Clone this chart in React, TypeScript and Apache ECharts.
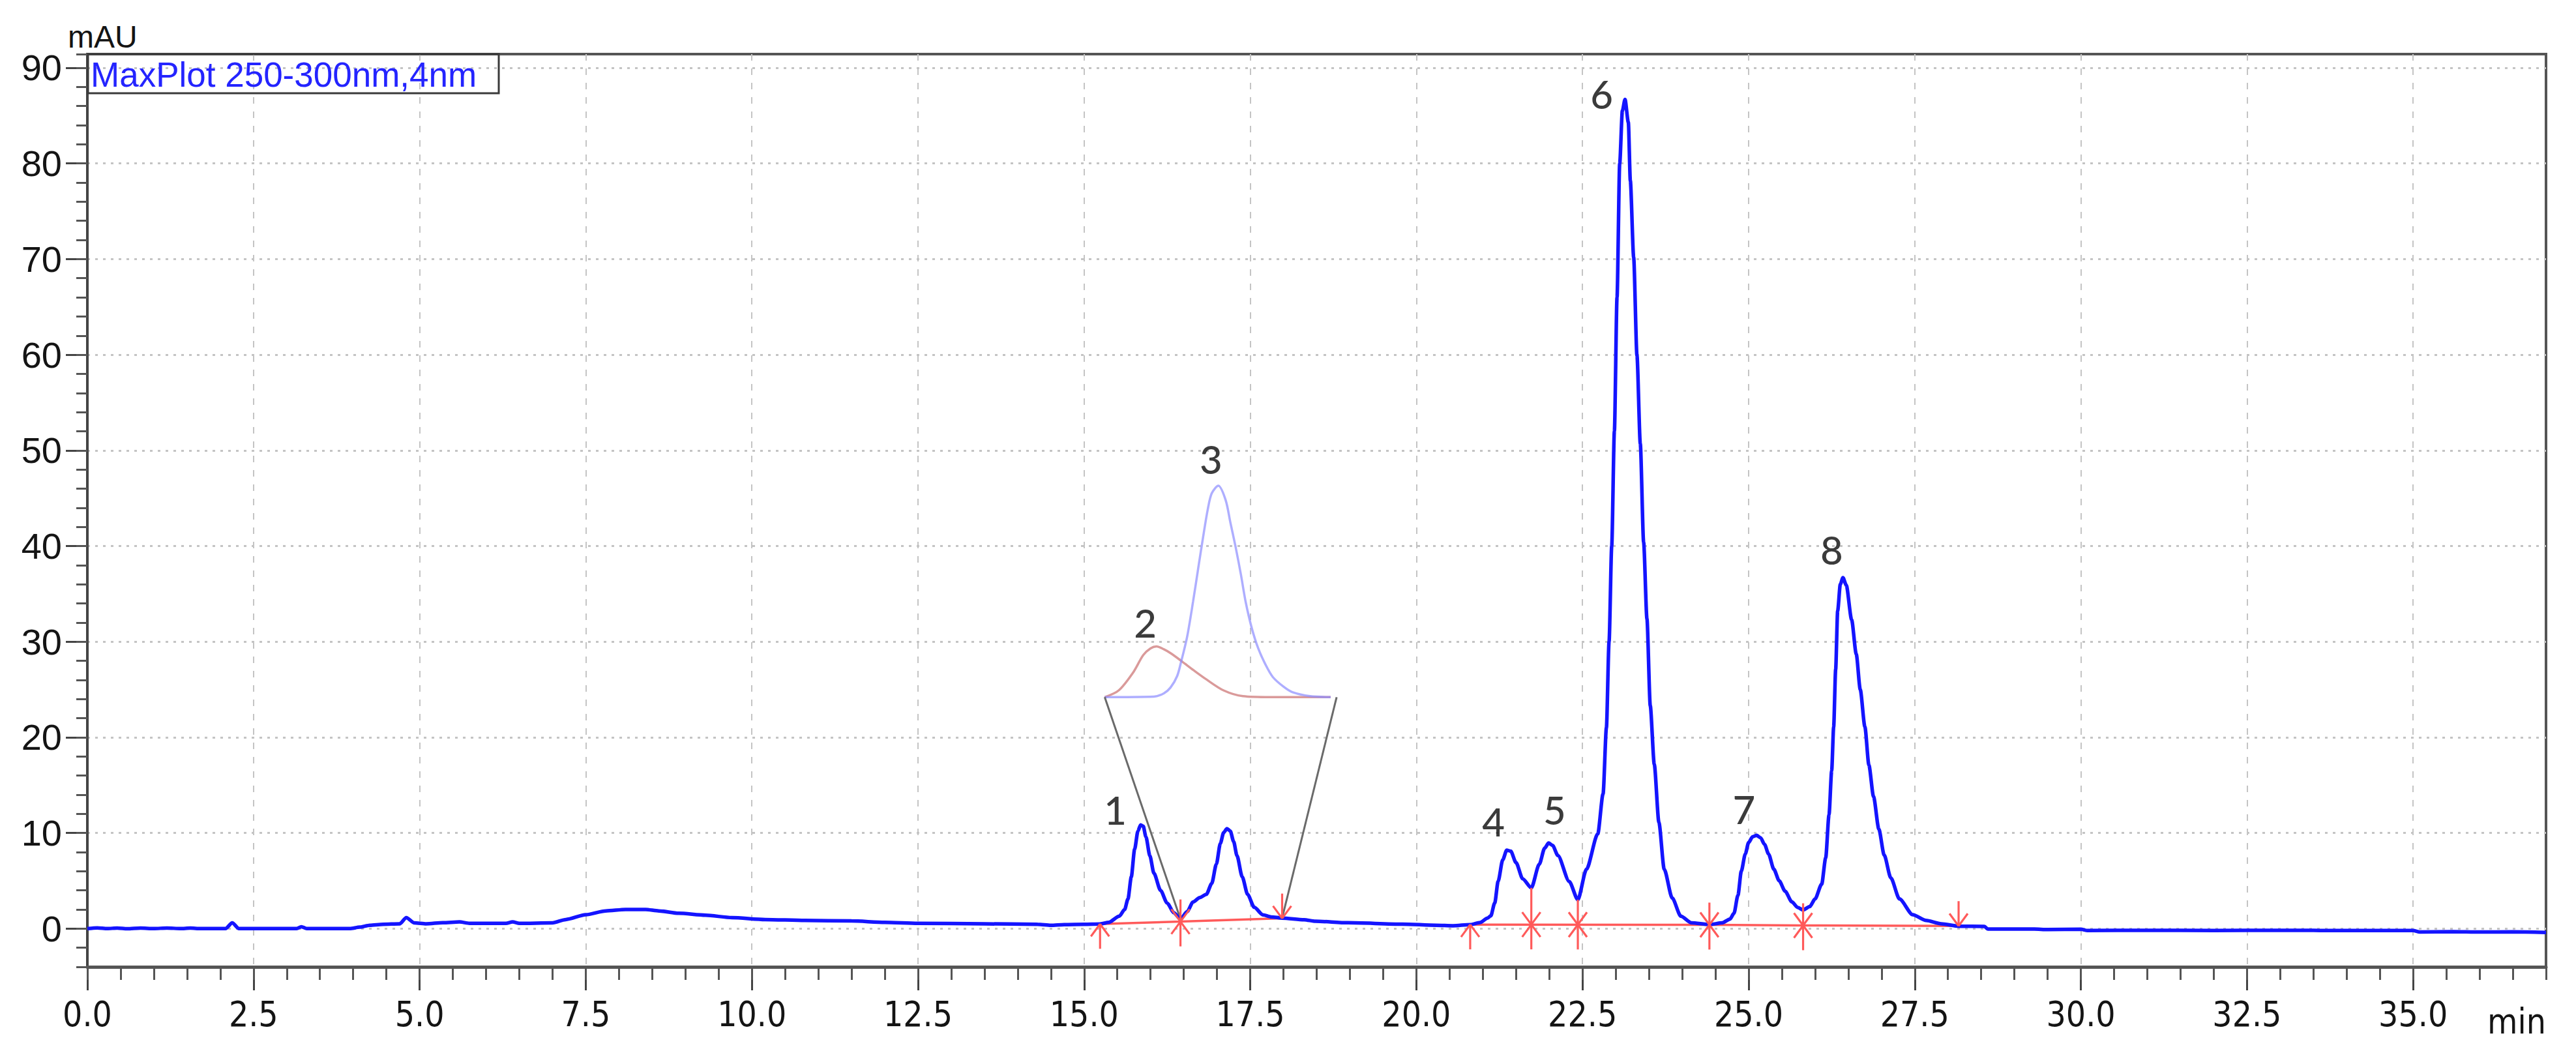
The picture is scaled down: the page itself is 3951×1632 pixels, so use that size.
import React, { useEffect, useRef } from "react";
import * as echarts from "echarts";

// ---- axis ticks ----
const X_MAJOR = [0, 2.5, 5, 7.5, 10, 12.5, 15, 17.5, 20, 22.5, 25, 27.5, 30, 32.5, 35];
const Y_MAJOR = [0, 10, 20, 30, 40, 50, 60, 70, 80, 90];

// ---- main chromatogram (MaxPlot 250-300nm) ----
const MAIN_T = [
  0.0, 0.15, 0.3, 0.45, 0.6, 0.8, 1.0, 1.2, 1.4, 1.55, 1.7, 2.08, 2.18, 2.28, 3.15, 3.22, 3.3, 3.95,
  4.1, 4.25, 4.45, 4.7, 4.8, 4.92, 5.1, 5.35, 5.6, 5.75, 6.3, 6.4, 6.5, 7.0, 7.2, 7.5, 7.8, 8.1,
  8.4, 8.6, 8.9, 9.3, 9.7, 10.2, 10.8, 11.5, 12.0, 12.5, 13.5, 14.3, 14.5, 14.7, 15.0, 15.24,
  15.37, 15.53, 15.61, 15.66, 15.71, 15.76, 15.81, 15.85, 15.89, 15.93, 15.99, 16.05, 16.15, 16.25, 16.35,
  16.45, 16.55, 16.64, 16.74, 16.84, 16.92, 16.99, 17.05, 17.1, 17.15, 17.2, 17.25, 17.3, 17.38, 17.46,
  17.56, 17.69, 17.82, 17.98, 18.31, 18.48, 18.97, 19.79, 20.3, 20.55, 20.81, 20.96, 21.07, 21.12,
  21.18, 21.23, 21.3, 21.36, 21.42, 21.5, 21.6, 21.73, 21.85, 21.93, 21.99, 22.05, 22.13, 22.3, 22.43, 22.56,
  22.73, 22.81, 22.86, 22.9, 22.94, 22.98, 23.02, 23.06, 23.1, 23.14, 23.19, 23.22, 23.27, 23.32,
  23.37, 23.42, 23.47, 23.52, 23.58, 23.65, 23.73, 23.85, 23.98, 24.14, 24.41, 24.6, 24.72, 24.78,
  24.84, 24.89, 24.95, 25.0, 25.06, 25.12, 25.18, 25.24, 25.3, 25.38, 25.46, 25.55, 25.65, 25.74,
  25.82, 25.92, 26.0, 26.1, 26.16, 26.21, 26.25, 26.28, 26.31, 26.34, 26.38, 26.42, 26.47, 26.55,
  26.62, 26.68, 26.75, 26.81, 26.88, 26.96, 27.04, 27.14, 27.27, 27.47, 27.67, 27.9, 28.16, 28.55,
  28.6, 29.3, 29.5, 30.0, 30.1, 31.0, 32.0, 33.0, 34.0, 35.0, 35.1, 35.6, 36.0, 36.5, 37.0,
];
const MAIN_Y = [
  0.0, 0.08, 0.0, 0.06, -0.02, 0.05, 0.0, 0.06, 0.0, 0.05, 0.0, 0.0, 0.6, 0.0, 0.0, 0.2, 0.0, 0.0,
  0.15, 0.35, 0.45, 0.5, 1.15, 0.6, 0.5, 0.62, 0.7, 0.55, 0.55, 0.7, 0.55, 0.6, 0.95, 1.45, 1.85, 2.0,
  2.0, 1.85, 1.6, 1.4, 1.15, 0.95, 0.85, 0.8, 0.65, 0.55, 0.5, 0.45, 0.35, 0.42, 0.45, 0.48,
  0.65, 1.3, 2.0, 3.1, 5.4, 8.3, 10.2, 10.85, 10.7, 9.6, 7.6, 5.8, 4.0, 2.67, 1.66,
  0.99, 1.77, 2.79, 3.24, 3.58, 4.71, 6.73, 8.9, 10.05, 10.45, 10.2, 9.1, 7.64, 5.4, 3.58,
  2.23, 1.44, 1.22, 1.1, 0.93, 0.77, 0.61, 0.47, 0.35, 0.3, 0.42, 0.64, 1.1, 1.33,
  2.7, 4.93, 7.2, 8.2, 8.1, 6.9, 5.2, 4.26, 6.73, 8.4, 8.95, 8.7, 7.64, 4.93, 3.02, 6.2,
  9.9, 14.1, 21.0, 30.0, 40.0, 52.0, 66.0, 80.0, 85.5, 86.7, 84.3, 78.2, 70.2, 59.9,
  50.7, 40.4, 32.4, 23.3, 17.2, 11.1, 6.2, 3.2, 1.3, 0.6, 0.42, 0.6, 1.0, 1.6,
  3.5, 6.0, 7.8, 9.0, 9.6, 9.75, 9.5, 8.8, 7.8, 6.2, 5.0, 3.9, 2.8, 2.2,
  1.95, 2.3, 3.1, 4.65, 7.4, 11.9, 16.5, 21.1, 27.1, 33.2, 36.0, 36.7, 35.9, 32.3,
  28.7, 25.0, 21.1, 17.1, 13.8, 10.4, 7.7, 5.3, 3.1, 1.45, 0.85, 0.5, 0.25, 0.22,
  -0.05, -0.05, -0.1, -0.07, -0.2, -0.18, -0.2, -0.18, -0.2, -0.2, -0.35, -0.32, -0.36, -0.34, -0.4,
];

// ---- inset (deconvoluted peaks 2 and 3) ----
const INSET2_T = [15.31, 15.52, 15.74, 15.89, 16.0, 16.09, 16.2, 16.3, 16.46, 16.65, 16.83, 17.1, 17.39, 17.8, 18.71];
const INSET2_Y = [24.2, 24.9, 26.8, 28.6, 29.3, 29.5, 29.2, 28.8, 28.0, 27.0, 26.1, 24.9, 24.3, 24.2, 24.2];
const INSET3_T = [15.31, 16.05, 16.2, 16.3, 16.4, 16.46, 16.55, 16.64, 16.72, 16.79, 16.86, 16.92, 17.02, 17.13, 17.2, 17.28, 17.36, 17.43, 17.52, 17.62, 17.73, 17.84, 18.0, 18.14, 18.4, 18.71];
const INSET3_Y = [24.2, 24.25, 24.6, 25.2, 26.4, 27.9, 30.5, 34.2, 37.8, 40.9, 43.8, 45.5, 46.3, 44.8, 42.5, 39.9, 37.0, 34.2, 31.5, 29.3, 27.6, 26.3, 25.3, 24.7, 24.3, 24.2];
const ZOOM_LEFT_T = [16.45, 15.31];
const ZOOM_LEFT_Y = [0.99, 24.2];
const ZOOM_RIGHT_T = [17.98, 18.8];
const ZOOM_RIGHT_Y = [1.1, 24.2];

// ---- integration baseline and markers ----
const BASE_T = [15.24, 16.45, 17.98, null, 20.81, 24.41, 25.82, 28.16];
const BASE_Y = [0.48, 0.73, 1.07, null, 0.42, 0.4, 0.33, 0.28];
const MARK_T = [15.24, 16.45, 17.98, 20.81, 21.73, 22.43, 24.41, 25.82, 28.16];
const MARK_BASE = [0.48, 0.73, 1.07, 0.42, 0.42, 0.41, 0.4, 0.33, 0.28];
const MARK_TOP = [0.48, 0.99, 1.07, 0.42, 4.26, 3.02, 0.42, 1.95, 0.28];
const MARK_KIND = [0, 1, 2, 0, 1, 1, 1, 1, 2]; // 0 start, 1 split, 2 end

// ---- peak labels ----
const PEAK_NAMES = ["1", "2", "3", "4", "5", "6", "7", "8"];
const PEAK_T = [15.47, 15.92, 16.91, 21.16, 22.08, 22.79, 24.93, 26.25];
const PEAK_Y = [12.4, 32.0, 49.1, 11.2, 12.4, 87.3, 12.5, 39.6];

const BLUE = "#1414ff";
const RED = "#ff5a5a";
const GRID_L = 134, GRID_T = 83, GRID_R = 46, GRID_B = 149;

const pairs = (ts: (number | null)[], ys: (number | null)[]) =>
  ts.map((t, i) => (t === null ? [null, null] : [t, ys[i]]));

export default function App() {
  const ref = useRef<HTMLDivElement>(null);
  useEffect(() => {
    if (!ref.current) return;
    const chart = echarts.init(ref.current, null, { renderer: "svg" });
    const labelFont = '"DejaVu Sans Condensed", "Liberation Sans Narrow", sans-serif';
    const option: any = {
      animation: false,
      backgroundColor: "#ffffff",
      grid: {
        left: GRID_L, top: GRID_T, right: GRID_R, bottom: GRID_B,
        show: true, borderColor: "#555555", borderWidth: 4, backgroundColor: "transparent",
      },
      xAxis: [
        {
          type: "value", min: 0, max: 37,
          axisLine: { show: true, onZero: false, lineStyle: { color: "#555", width: 5 } },
          axisTick: { show: true, customValues: X_MAJOR, length: 36, lineStyle: { color: "#444", width: 3 } },
          axisLabel: {
            show: true, customValues: X_MAJOR, margin: 46,
            formatter: (v: number) => v.toFixed(1),
            fontFamily: labelFont, fontSize: 53, color: "#141414",
          },
          splitLine: { show: true, lineStyle: { color: "#c4c4c4", width: 2, type: [10, 12] } },
        },
        {
          type: "value", min: 0, max: 37, interval: 0.5, position: "bottom",
          axisLine: { show: false, onZero: false },
          axisTick: { show: true, length: 20, lineStyle: { color: "#555", width: 3 } },
          axisLabel: { show: false },
          splitLine: { show: false },
        },
      ],
      yAxis: [
        {
          type: "value", min: -4, max: 91.43,
          axisLine: { show: true, onZero: false, lineStyle: { color: "#444", width: 4 } },
          axisTick: { show: true, customValues: Y_MAJOR, length: 33, lineStyle: { color: "#444", width: 3 } },
          axisLabel: {
            show: true, customValues: Y_MAJOR, margin: 39,
            fontFamily: '"Liberation Sans", Arial, sans-serif', fontSize: 56, color: "#141414",
          },
          splitLine: { show: true, lineStyle: { color: "#c4c4c4", width: 3, type: [4, 8] } },
        },
        {
          type: "value", min: -4, max: 91.43, interval: 2, position: "left",
          axisLine: { show: false, onZero: false },
          axisTick: { show: true, length: 17, lineStyle: { color: "#555", width: 3 } },
          axisLabel: { show: false },
          splitLine: { show: false },
        },
      ],
      series: [
        {
          type: "line", name: "inset2", data: pairs(INSET2_T, INSET2_Y), showSymbol: false,
          smooth: 0.3, lineStyle: { color: "rgba(205,120,120,0.75)", width: 3.5 }, z: 2,
        },
        {
          type: "line", name: "inset3", data: pairs(INSET3_T, INSET3_Y), showSymbol: false,
          smooth: 0.3, lineStyle: { color: "rgba(140,140,255,0.7)", width: 3.5 }, z: 2,
        },
        {
          type: "line", name: "zoomL", data: pairs(ZOOM_LEFT_T, ZOOM_LEFT_Y), showSymbol: false,
          lineStyle: { color: "#6a6a6a", width: 3 }, z: 2,
        },
        {
          type: "line", name: "zoomR", data: pairs(ZOOM_RIGHT_T, ZOOM_RIGHT_Y), showSymbol: false,
          lineStyle: { color: "#6a6a6a", width: 3 }, z: 2,
        },
        {
          type: "line", name: "baseline", data: pairs(BASE_T, BASE_Y), showSymbol: false,
          connectNulls: false, lineStyle: { color: RED, width: 3.5 }, z: 3,
        },
        {
          type: "line", name: "MaxPlot 250-300nm,4nm", data: pairs(MAIN_T, MAIN_Y), showSymbol: false,
          smooth: 0.25, smoothMonotone: "x", lineStyle: { color: BLUE, width: 5.5 }, z: 4,
        },
        {
          type: "custom", name: "markers",
          data: MARK_T.map((t, i) => [t, MARK_BASE[i], MARK_TOP[i], MARK_KIND[i]]),
          encode: { x: 0, y: 1 }, z: 5,
          renderItem: (_p: any, api: any) => {
            const t = api.value(0), b = api.value(1), top = api.value(2), kind = api.value(3);
            const c = api.coord([t, b]);
            const ct = api.coord([t, top]);
            const x = c[0], y = c[1];
            const L = 38, ax = 14, ay = 19;
            const st = { stroke: RED, lineWidth: 3.2 };
            const ln = (x1: number, y1: number, x2: number, y2: number) => ({
              type: "line", shape: { x1, y1, x2, y2 }, style: st,
            });
            const ch: any[] = [];
            if (kind === 0) {
              ch.push(ln(x, y, x, y + L), ln(x, y, x - ax, y + ay), ln(x, y, x + ax, y + ay));
            } else if (kind === 2) {
              ch.push(ln(x, y - L, x, y), ln(x, y, x - ax, y - ay), ln(x, y, x + ax, y - ay));
            } else {
              const yTop = Math.min(ct[1], y - 34);
              ch.push(
                ln(x, yTop, x, y + L),
                ln(x, y, x - ax, y - ay), ln(x, y, x + ax, y - ay),
                ln(x, y, x - ax, y + ay), ln(x, y, x + ax, y + ay),
              );
            }
            return { type: "group", children: ch };
          },
        },
        {
          type: "scatter", name: "peaks",
          data: PEAK_T.map((t, i) => [t, PEAK_Y[i], PEAK_NAMES[i]]),
          symbolSize: 2, itemStyle: { color: "rgba(0,0,0,0)" }, z: 6,
          label: {
            show: true, position: "inside", formatter: (p: any) => p.data[2],
            fontFamily: "Lato, 'Open Sans', sans-serif", fontSize: 60, fontWeight: 500, color: "#0a0a0a",
          },
        },
      ],
      graphic: [
        {
          type: "rect", shape: { x: 135, y: 83, width: 630, height: 60 },
          style: { fill: "none", stroke: "#3a3a3a", lineWidth: 3 }, z: 10,
        },
        {
          type: "text", x: 139, y: 114, z: 10,
          style: {
            text: "MaxPlot 250-300nm,4nm", fill: "#2424ff",
            font: '53px "Liberation Sans", Arial, sans-serif', verticalAlign: "middle", align: "left",
          },
        },
        {
          type: "text", x: 104, y: 56, z: 10,
          style: {
            text: "mAU", fill: "#141414",
            font: '48px "Liberation Sans", Arial, sans-serif', verticalAlign: "middle", align: "left",
          },
        },
        {
          type: "text", x: 3905, y: 1566, z: 10,
          style: {
            text: "min", fill: "#141414",
            font: '53px "DejaVu Sans Condensed", "Liberation Sans Narrow", sans-serif',
            verticalAlign: "middle", align: "right",
          },
        },
      ],
    };
    chart.setOption(option);
    return () => chart.dispose();
  }, []);
  return (
    <div
      ref={ref}
      style={{ position: "absolute", left: 0, top: 0, width: 3951, height: 1632, background: "#fff" }}
    />
  );
}
